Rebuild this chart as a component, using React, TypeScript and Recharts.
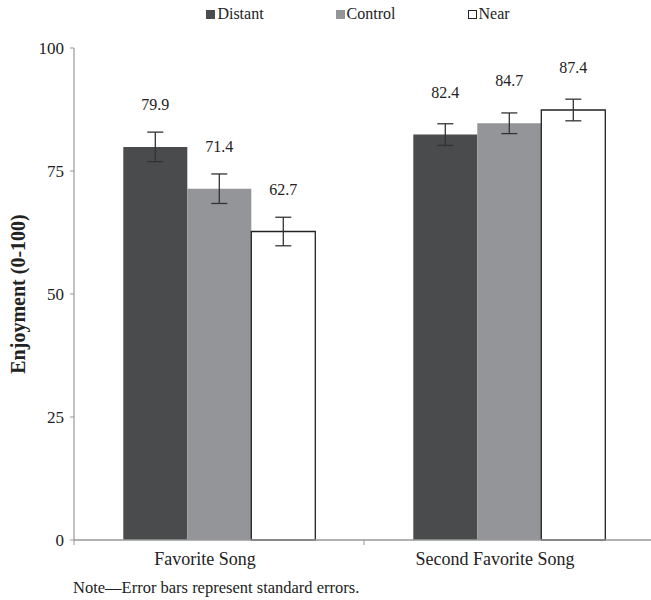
import { BarChart, Bar, XAxis, YAxis, ErrorBar, LabelList } from 'recharts'

const categories = ['Favorite Song', 'Second Favorite Song']
const distant = [79.9, 82.4]
const control = [71.4, 84.7]
const near = [62.7, 87.4]
const distantSE = [3.0, 2.2]
const controlSE = [3.0, 2.1]
const nearSE = [2.9, 2.2]
const yTicks = [0, 25, 50, 75, 100]

const seriesInfo = [
  { key: 'distant', name: 'Distant', fill: '#4a4b4d', stroke: 'none' },
  { key: 'control', name: 'Control', fill: '#939598', stroke: 'none' },
  { key: 'near', name: 'Near', fill: '#ffffff', stroke: '#222222' },
]

const data = categories.map((c, i) => ({
  name: c,
  distant: distant[i],
  control: control[i],
  near: near[i],
  distantSE: distantSE[i],
  controlSE: controlSE[i],
  nearSE: nearSE[i],
}))

const FONT = '"Liberation Serif", "DejaVu Serif", serif'
const W = 654
const H = 600
const MARGIN = { top: 48, right: 0, bottom: 30, left: 0 }
const Y_W = 74
const band = (W - MARGIN.left - MARGIN.right - Y_W) / categories.length

function XTick(props: any) {
  const { x, y, payload } = props
  return (
    <g>
      <line x1={x - band / 2} x2={x - band / 2} y1={y - 8} y2={y - 3} stroke="#999" />
      <text x={x - 14} y={y + 17} textAnchor="middle" fontSize={18} fill="#222" style={{ fontFamily: FONT }}>
        {payload.value}
      </text>
    </g>
  )
}

function ValueLabel(props: any) {
  const { x, y, width, value } = props
  return (
    <text x={x + width / 2} y={y - 37} textAnchor="middle" fontSize={16} fill="#222" style={{ fontFamily: FONT }}>
      {value}
    </text>
  )
}

function LegendBox() {
  return (
    <div
      style={{
        position: 'absolute',
        top: 5,
        left: Y_W - 6,
        width: W - Y_W,
        display: 'flex',
        justifyContent: 'center',
        gap: 72,
        fontFamily: FONT,
        fontSize: 16,
        color: '#222',
      }}
    >
      {seriesInfo.map(s => (
        <div key={s.key} style={{ display: 'flex', alignItems: 'center' }}>
          <span
            style={{
              display: 'inline-block',
              width: s.stroke === 'none' ? 9 : 7,
              height: s.stroke === 'none' ? 9 : 7,
              background: s.fill,
              border: s.stroke === 'none' ? 'none' : `1px solid ${s.stroke}`,
              marginRight: 2,
            }}
          />
          {s.name}
        </div>
      ))}
    </div>
  )
}

export default function App() {
  return (
    <div style={{ position: 'absolute', left: 0, top: 0, width: 651, height: H, overflow: 'hidden', background: '#fff' }}>
      <BarChart width={W} height={H} data={data} margin={MARGIN} barCategoryGap="17%" barGap={0}>
        <XAxis
          dataKey="name"
          axisLine={{ stroke: '#999', strokeWidth: 1.5 }}
          tickLine={false}
          tick={<XTick />}
          height={30}
          interval={0}
        />
        <YAxis
          domain={[0, 100]}
          ticks={yTicks}
          width={Y_W}
          axisLine={{ stroke: '#999', strokeWidth: 1.2 }}
          tickLine={{ stroke: '#999' }}
          tickSize={4}
          tickMargin={6}
          tick={{ fontSize: 17, fill: '#222', style: { fontFamily: FONT } }}
          label={({ viewBox }: any) => {
            const cx = 18
            const cy = viewBox.y + viewBox.height / 2
            return (
              <text
                x={cx}
                y={cy}
                transform={`rotate(-90 ${cx} ${cy})`}
                textAnchor="middle"
                dominantBaseline="central"
                fontSize={20}
                fontWeight="bold"
                fill="#222"
                style={{ fontFamily: FONT }}
              >
                Enjoyment (0-100)
              </text>
            )
          }}
        />
        {seriesInfo.map(s => (
          <Bar
            key={s.key}
            dataKey={s.key}
            name={s.name}
            fill={s.fill}
            stroke={s.stroke}
            strokeWidth={s.stroke === 'none' ? 0 : 1.3}
            isAnimationActive={false}
          >
            <ErrorBar dataKey={`${s.key}SE`} width={8} stroke="#333" strokeWidth={1.3} />
            <LabelList dataKey={s.key} content={<ValueLabel />} />
          </Bar>
        ))}
      </BarChart>
      <LegendBox />
      <div style={{ position: 'absolute', left: 73, top: 578, fontFamily: FONT, fontSize: 16.5, color: '#222' }}>
        Note—Error bars represent standard errors.
      </div>
    </div>
  )
}
